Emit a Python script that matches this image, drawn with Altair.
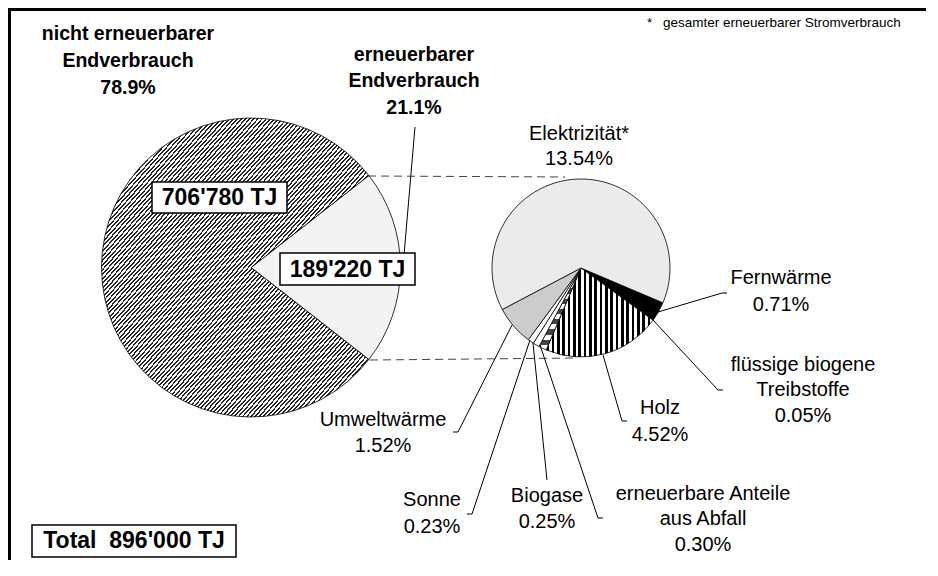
import math
import altair as alt
import pandas as pd

# ---------------- data ----------------
outer_names = ["erneuerbarer Endverbrauch", "nicht erneuerbarer Endverbrauch"]
outer_pct = [21.1, 78.9]
outer_tj = ["189'220 TJ", "706'780 TJ"]
total_label = "Total\u00a0 896'000 TJ"

inner_names = ["Fernwärme", "flüssige biogene Treibstoffe", "Holz",
               "erneuerbare Anteile aus Abfall", "Biogase", "Sonne",
               "Umweltwärme", "Elektrizität*"]
inner_pct = [0.71, 0.05, 4.52, 0.30, 0.25, 0.23, 1.52, 13.54]
footnote_star = "*"
footnote_text = "gesamter erneuerbarer Stromverbrauch"

# ---------------- layout (page pixel coordinates) ----------------
W, H = 918, 552
OFF = 8
FONT = "Liberation Sans"

big_c = (251 - OFF, 267.5 - OFF)
big_r = 149.5
small_c = (581 - OFF, 268 - OFF)
small_r = 89
small_start_deg = 113


def stripes(n, dark, light, x1, y1, x2, y2, duty=0.5):
    stops = []
    for i in range(n):
        a = i / n
        b = (i + duty) / n
        c = (i + 1) / n
        stops += [{"offset": a, "color": dark}, {"offset": b, "color": dark},
                  {"offset": b, "color": light}, {"offset": c, "color": light}]
    return {"gradient": "linear", "x1": x1, "y1": y1, "x2": x2, "y2": y2, "stops": stops}


hatch_diag = stripes(130, "#262626", "#ffffff", 0, 0, 1, 1, duty=0.44)
holz_fill = stripes(20, "#000000", "#ffffff", 0, 0, 1, 0, duty=0.5)
abfall_fill = stripes(8, "#444444", "#ffffff", 0, 0, 0, 1, duty=0.5)

outer_fills = {outer_names[0]: "#f3f3f3", outer_names[1]: hatch_diag}
inner_fills = {
    "Fernwärme": "#000000",
    "flüssige biogene Treibstoffe": "#000000",
    "Holz": holz_fill,
    "erneuerbare Anteile aus Abfall": abfall_fill,
    "Biogase": "#ffffff",
    "Sonne": "#ffffff",
    "Umweltwärme": "#cccccc",
    "Elektrizität*": "#ebebeb",
}


def fill_cond(fills):
    return {"condition": [{"test": "datum.name === " + repr(k), "value": v}
                          for k, v in fills.items()],
            "value": "#ffffff"}


outer_df = pd.DataFrame({"name": outer_names, "value": outer_pct,
                         "ord": list(range(len(outer_names)))})
inner_df = pd.DataFrame({"name": inner_names, "value": inner_pct,
                         "ord": list(range(len(inner_names)))})

a0 = math.pi / 2 - math.pi * outer_pct[0] / 100.0
big = alt.Chart(outer_df).mark_arc(radius=big_r, stroke="#000000", strokeWidth=0.8).encode(
    theta=alt.Theta("value:Q", stack=True,
                    scale=alt.Scale(range=[a0, a0 + 2 * math.pi])),
    order=alt.Order("ord:Q"),
    x=alt.value(big_c[0]), y=alt.value(big_c[1]),
    fill=fill_cond(outer_fills),
)

s0 = math.radians(small_start_deg)
small = alt.Chart(inner_df).mark_arc(radius=small_r, stroke="#000000", strokeWidth=0.8).encode(
    theta=alt.Theta("value:Q", stack=True,
                    scale=alt.Scale(range=[s0, s0 + 2 * math.pi])),
    order=alt.Order("ord:Q"),
    x=alt.value(small_c[0]), y=alt.value(small_c[1]),
    fill=fill_cond(inner_fills),
)

# ---------------- connector / leader lines ----------------
leaders = [
    (415, 127, 403, 267),
    (658, 312, 722, 293), (722, 293, 727, 293),
    (653, 320, 718, 390), (718, 390, 723, 390),
    (603, 355, 622, 421), (622, 421, 627, 421),
    (540, 345, 598, 518), (598, 518, 603, 518),
    (533, 343, 547, 480),
    (530, 340, 472, 514), (472, 514, 467, 514),
    (512, 325, 458, 432), (458, 432, 453, 432),
]
dashes = [(368, 176, 565, 177), (370, 360, 578, 358)]


def seg_df(segs):
    return pd.DataFrame([{"x": a - OFF, "y": b - OFF, "x2": c - OFF, "y2": d - OFF}
                         for a, b, c, d in segs])


def enc_seg(ch):
    return ch.encode(x=alt.X("x:Q", scale=None), y=alt.Y("y:Q", scale=None),
                     x2=alt.X2("x2:Q"), y2=alt.Y2("y2:Q"))


leader_layer = enc_seg(alt.Chart(seg_df(leaders)).mark_rule(color="#000000", strokeWidth=1))
dash_layer = enc_seg(alt.Chart(seg_df(dashes)).mark_rule(color="#444444", strokeWidth=1,
                                                          strokeDash=[8, 5]))
frame_df = pd.DataFrame([{"x": 1.5, "y": 0, "x2": 1.5, "y2": H},
                         {"x": 0, "y": 1.5, "x2": W, "y2": 1.5}])
frame_layer = alt.Chart(frame_df).mark_rule(color="#000000", strokeWidth=3).encode(
    x=alt.X("x:Q", scale=None), y=alt.Y("y:Q", scale=None),
    x2=alt.X2("x2:Q"), y2=alt.Y2("y2:Q"))

# ---------------- boxes ----------------
boxes = [(152, 182, 287, 213), (280, 253, 415, 285), (32, 525, 236, 557)]
box_layer = enc_seg(alt.Chart(seg_df(boxes)).mark_rect(fill="#ffffff", stroke="#000000",
                                                        strokeWidth=1.5))

# ---------------- texts ----------------
def txt_df(rows):
    return pd.DataFrame([{"t": t, "x": x - OFF, "y": y - OFF} for t, x, y in rows])


def txt_layer(rows, size, weight="normal", align="center"):
    return alt.Chart(txt_df(rows)).mark_text(
        font=FONT, fontSize=size, fontWeight=weight, align=align,
        baseline="middle", color="#000000").encode(
        x=alt.X("x:Q", scale=None), y=alt.Y("y:Q", scale=None), text="t:N")


bold_rows = [
    ("nicht erneuerbarer", 128, 34), ("Endverbrauch", 128, 61),
    (f"{outer_pct[1]:.1f}%", 128, 88),
    ("erneuerbarer", 414, 55), ("Endverbrauch", 414, 81),
    (f"{outer_pct[0]:.1f}%", 414, 108),
]
box_rows = [(outer_tj[1], 219.5, 198), (outer_tj[0], 347.5, 270), (total_label, 134, 541)]

pct = dict(zip(inner_names, inner_pct))
normal_rows = [
    ("Elektrizität*", 579, 134), (f"{pct['Elektrizität*']:.2f}%", 579, 159),
    ("Fernwärme", 781, 278), (f"{pct['Fernwärme']:.2f}%", 781, 305),
    ("flüssige biogene", 803, 365), ("Treibstoffe", 803, 390),
    (f"{pct['flüssige biogene Treibstoffe']:.2f}%", 803, 416),
    ("Holz", 660, 408), (f"{pct['Holz']:.2f}%", 660, 435),
    ("erneuerbare Anteile", 703, 494), ("aus Abfall", 703, 519),
    (f"{pct['erneuerbare Anteile aus Abfall']:.2f}%", 703, 545),
    ("Biogase", 547, 496), (f"{pct['Biogase']:.2f}%", 547, 522),
    ("Sonne", 432, 500), (f"{pct['Sonne']:.2f}%", 432, 527),
    ("Umweltwärme", 383, 420), (f"{pct['Umweltwärme']:.2f}%", 383, 446),
]
foot_rows_star = [(footnote_star, 647, 23)]
foot_rows_text = [(footnote_text, 663, 23)]

chart = alt.layer(
    big, small, dash_layer, leader_layer, box_layer, frame_layer,
    txt_layer(bold_rows, 19.5, "bold"),
    txt_layer(box_rows, 23, "bold"),
    txt_layer(normal_rows, 20),
    txt_layer(foot_rows_star, 13.5, align="left"),
    txt_layer(foot_rows_text, 13.5, align="left"),
).resolve_scale(theta="independent").properties(
    width=W, height=H, padding=0,
    autosize=alt.AutoSizeParams(type="none"),
    background="#ffffff",
).configure_view(stroke=None)

chart.save("out.html", embed_options={"renderer": "svg", "actions": False})
